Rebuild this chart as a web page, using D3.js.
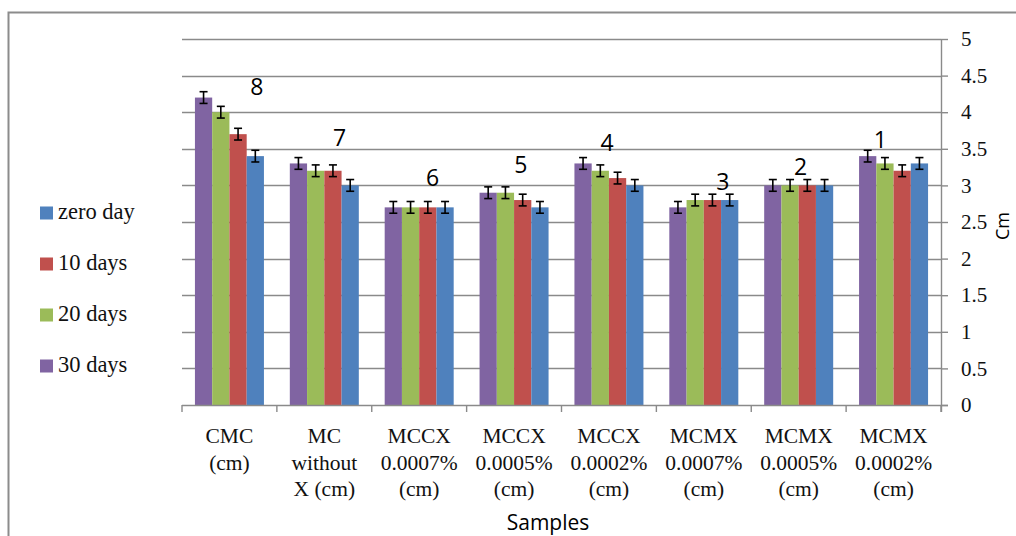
<!DOCTYPE html>
<html>
<head>
<meta charset="utf-8">
<script src="https://cdn.jsdelivr.net/npm/d3@7"></script>
<style>
  html, body { margin: 0; padding: 0; background: #fff; }
  svg { display: block; }
</style>
</head>
<body>
<svg id="chart" width="1016" height="536"></svg>
<script>
// ---- data ----
const categories = [
  ["CMC", "(cm)"],
  ["MC", "without", "X (cm)"],
  ["MCCX", "0.0007%", "(cm)"],
  ["MCCX", "0.0005%", "(cm)"],
  ["MCCX", "0.0002%", "(cm)"],
  ["MCMX", "0.0007%", "(cm)"],
  ["MCMX", "0.0005%", "(cm)"],
  ["MCMX", "0.0002%", "(cm)"]
];
const seriesNames = ["30 days", "20 days", "10 days", "zero day"];
const legendOrder = ["zero day", "10 days", "20 days", "30 days"];
const days30  = [4.2, 3.3, 2.7, 2.9, 3.3, 2.7, 3.0, 3.4];
const days20  = [4.0, 3.2, 2.7, 2.9, 3.2, 2.8, 3.0, 3.3];
const days10  = [3.7, 3.2, 2.7, 2.8, 3.1, 2.8, 3.0, 3.2];
const zeroDay = [3.4, 3.0, 2.7, 2.7, 3.0, 2.8, 3.0, 3.3];
const errorAmount = 0.08;
const yTicks = [0, 0.5, 1, 1.5, 2, 2.5, 3, 3.5, 4, 4.5, 5];
const rankLabels = ["8", "7", "6", "5", "4", "3", "2", "1"];
const rankLabelValue = [4.34, 3.65, 3.10, 3.28, 3.58, 3.05, 3.25, 3.62];
const rankLabelAlong = [0.79, 0.66, 0.64, 0.57, 0.48, 0.70, 0.52, 0.36];

const seriesValues = {
  "30 days": days30, "20 days": days20, "10 days": days10, "zero day": zeroDay
};
const colors = {
  "30 days": "#8064A2", "20 days": "#9BBB59", "10 days": "#C0504D", "zero day": "#4F81BD"
};

// ---- layout ----
const svg = d3.select("#chart");
const pLeft = 182, pRight = 941, pTop = 39, pBottom = 405;
const serif = "'Liberation Serif', 'Times New Roman', serif";
const sans = "'Open Sans', 'Noto Sans', sans-serif";
const gridColor = "#8a8a8a";

// outer frame
svg.append("rect").attr("x", 8.5).attr("y", 12.5).attr("width", 1100).attr("height", 600)
  .attr("fill", "none").attr("stroke", "#8c8c8c").attr("stroke-width", 2);

const x0 = d3.scaleBand().domain(d3.range(categories.length)).range([pLeft, pRight]).padding(0);
const x1 = d3.scaleBand().domain(seriesNames).range([0, x0.bandwidth()]).paddingInner(0).paddingOuter(0.75);
const y = d3.scaleLinear().domain([0, 5]).range([pBottom, pTop]);

// gridlines
svg.append("g").selectAll("line").data(yTicks.filter(t => t > 0)).join("line")
  .attr("x1", pLeft).attr("x2", pRight)
  .attr("y1", d => Math.round(y(d)) + 0.5).attr("y2", d => Math.round(y(d)) + 0.5)
  .attr("stroke", gridColor).attr("stroke-width", 1.4);

// bars
const groups = svg.append("g").selectAll("g").data(categories).join("g")
  .attr("transform", (d, i) => `translate(${x0(i)},0)`);
groups.each(function(d, i) {
  const g = d3.select(this);
  seriesNames.forEach(s => {
    const v = seriesValues[s][i];
    g.append("rect")
      .attr("x", x1(s)).attr("width", x1.bandwidth())
      .attr("y", y(v)).attr("height", y(0) - y(v))
      .attr("fill", colors[s]);
  });
  // error bars
  seriesNames.forEach(s => {
    const v = seriesValues[s][i];
    const cx = x1(s) + x1.bandwidth() / 2;
    const eg = g.append("g").attr("stroke", "#000").attr("stroke-width", 1.6);
    eg.append("line").attr("x1", cx).attr("x2", cx).attr("y1", y(v + errorAmount)).attr("y2", y(v - errorAmount));
    eg.append("line").attr("x1", cx - 4).attr("x2", cx + 4).attr("y1", y(v + errorAmount)).attr("y2", y(v + errorAmount));
    eg.append("line").attr("x1", cx - 4).attr("x2", cx + 4).attr("y1", y(v - errorAmount)).attr("y2", y(v - errorAmount));
  });
});

// x axis line and ticks
const xa = svg.append("g").attr("stroke", gridColor).attr("stroke-width", 1.4);
xa.append("line").attr("x1", pLeft).attr("x2", pRight + 7).attr("y1", pBottom + 0.5).attr("y2", pBottom + 0.5);
xa.selectAll(".xt").data(d3.range(categories.length + 1)).join("line")
  .attr("x1", d => pLeft + d * x0.step()).attr("x2", d => pLeft + d * x0.step())
  .attr("y1", pBottom).attr("y2", pBottom + 7);

// right y axis
const ya = svg.append("g").attr("transform", `translate(${pRight},0)`)
  .call(d3.axisRight(y).tickValues(yTicks).tickSize(7).tickPadding(13).tickFormat(d3.format("")));
ya.select(".domain").attr("stroke", gridColor).attr("stroke-width", 1.4)
  .attr("d", `M0.5,${pTop}V${pBottom + 7}`);
ya.selectAll(".tick line").attr("stroke", gridColor).attr("stroke-width", 1.4);
ya.selectAll(".tick text").attr("font-family", serif).attr("font-size", 21).attr("fill", "#111");

// category labels
const cl = svg.append("g").attr("font-family", serif).attr("font-size", 21.5).attr("fill", "#111")
  .attr("text-anchor", "middle");
categories.forEach((lines, i) => {
  const t = cl.append("text").attr("x", x0(i) + x0.bandwidth() / 2).attr("y", 443);
  lines.forEach((ln, j) => t.append("tspan").attr("x", x0(i) + x0.bandwidth() / 2).attr("dy", j === 0 ? 0 : 26.5).text(ln));
});

// rank labels
svg.append("g").selectAll("text").data(rankLabels).join("text")
  .attr("x", (d, i) => x0(i) + rankLabelAlong[i] * x0.bandwidth())
  .attr("y", (d, i) => y(rankLabelValue[i]) + 8)
  .attr("text-anchor", "middle")
  .attr("font-family", sans).attr("font-size", 23).attr("fill", "#000")
  .text(d => d);

// axis titles
svg.append("text").attr("x", 548).attr("y", 530).attr("text-anchor", "middle")
  .attr("font-family", sans).attr("font-size", 21).attr("fill", "#000").text("Samples");
svg.append("text").attr("transform", "translate(1009,226) rotate(-90)").attr("text-anchor", "middle")
  .attr("font-family", sans).attr("font-size", 18).attr("fill", "#000").text("Cm");

// legend
const lg = svg.append("g");
legendOrder.forEach((s, i) => {
  const cy = 213 + i * 51;
  lg.append("rect").attr("x", 40).attr("y", cy - 6.5).attr("width", 13).attr("height", 13).attr("fill", colors[s]);
  lg.append("text").attr("x", 58).attr("y", cy + 6).attr("font-family", serif).attr("font-size", 22.5)
    .attr("fill", "#111").text(s);
});
</script>
</body>
</html>
